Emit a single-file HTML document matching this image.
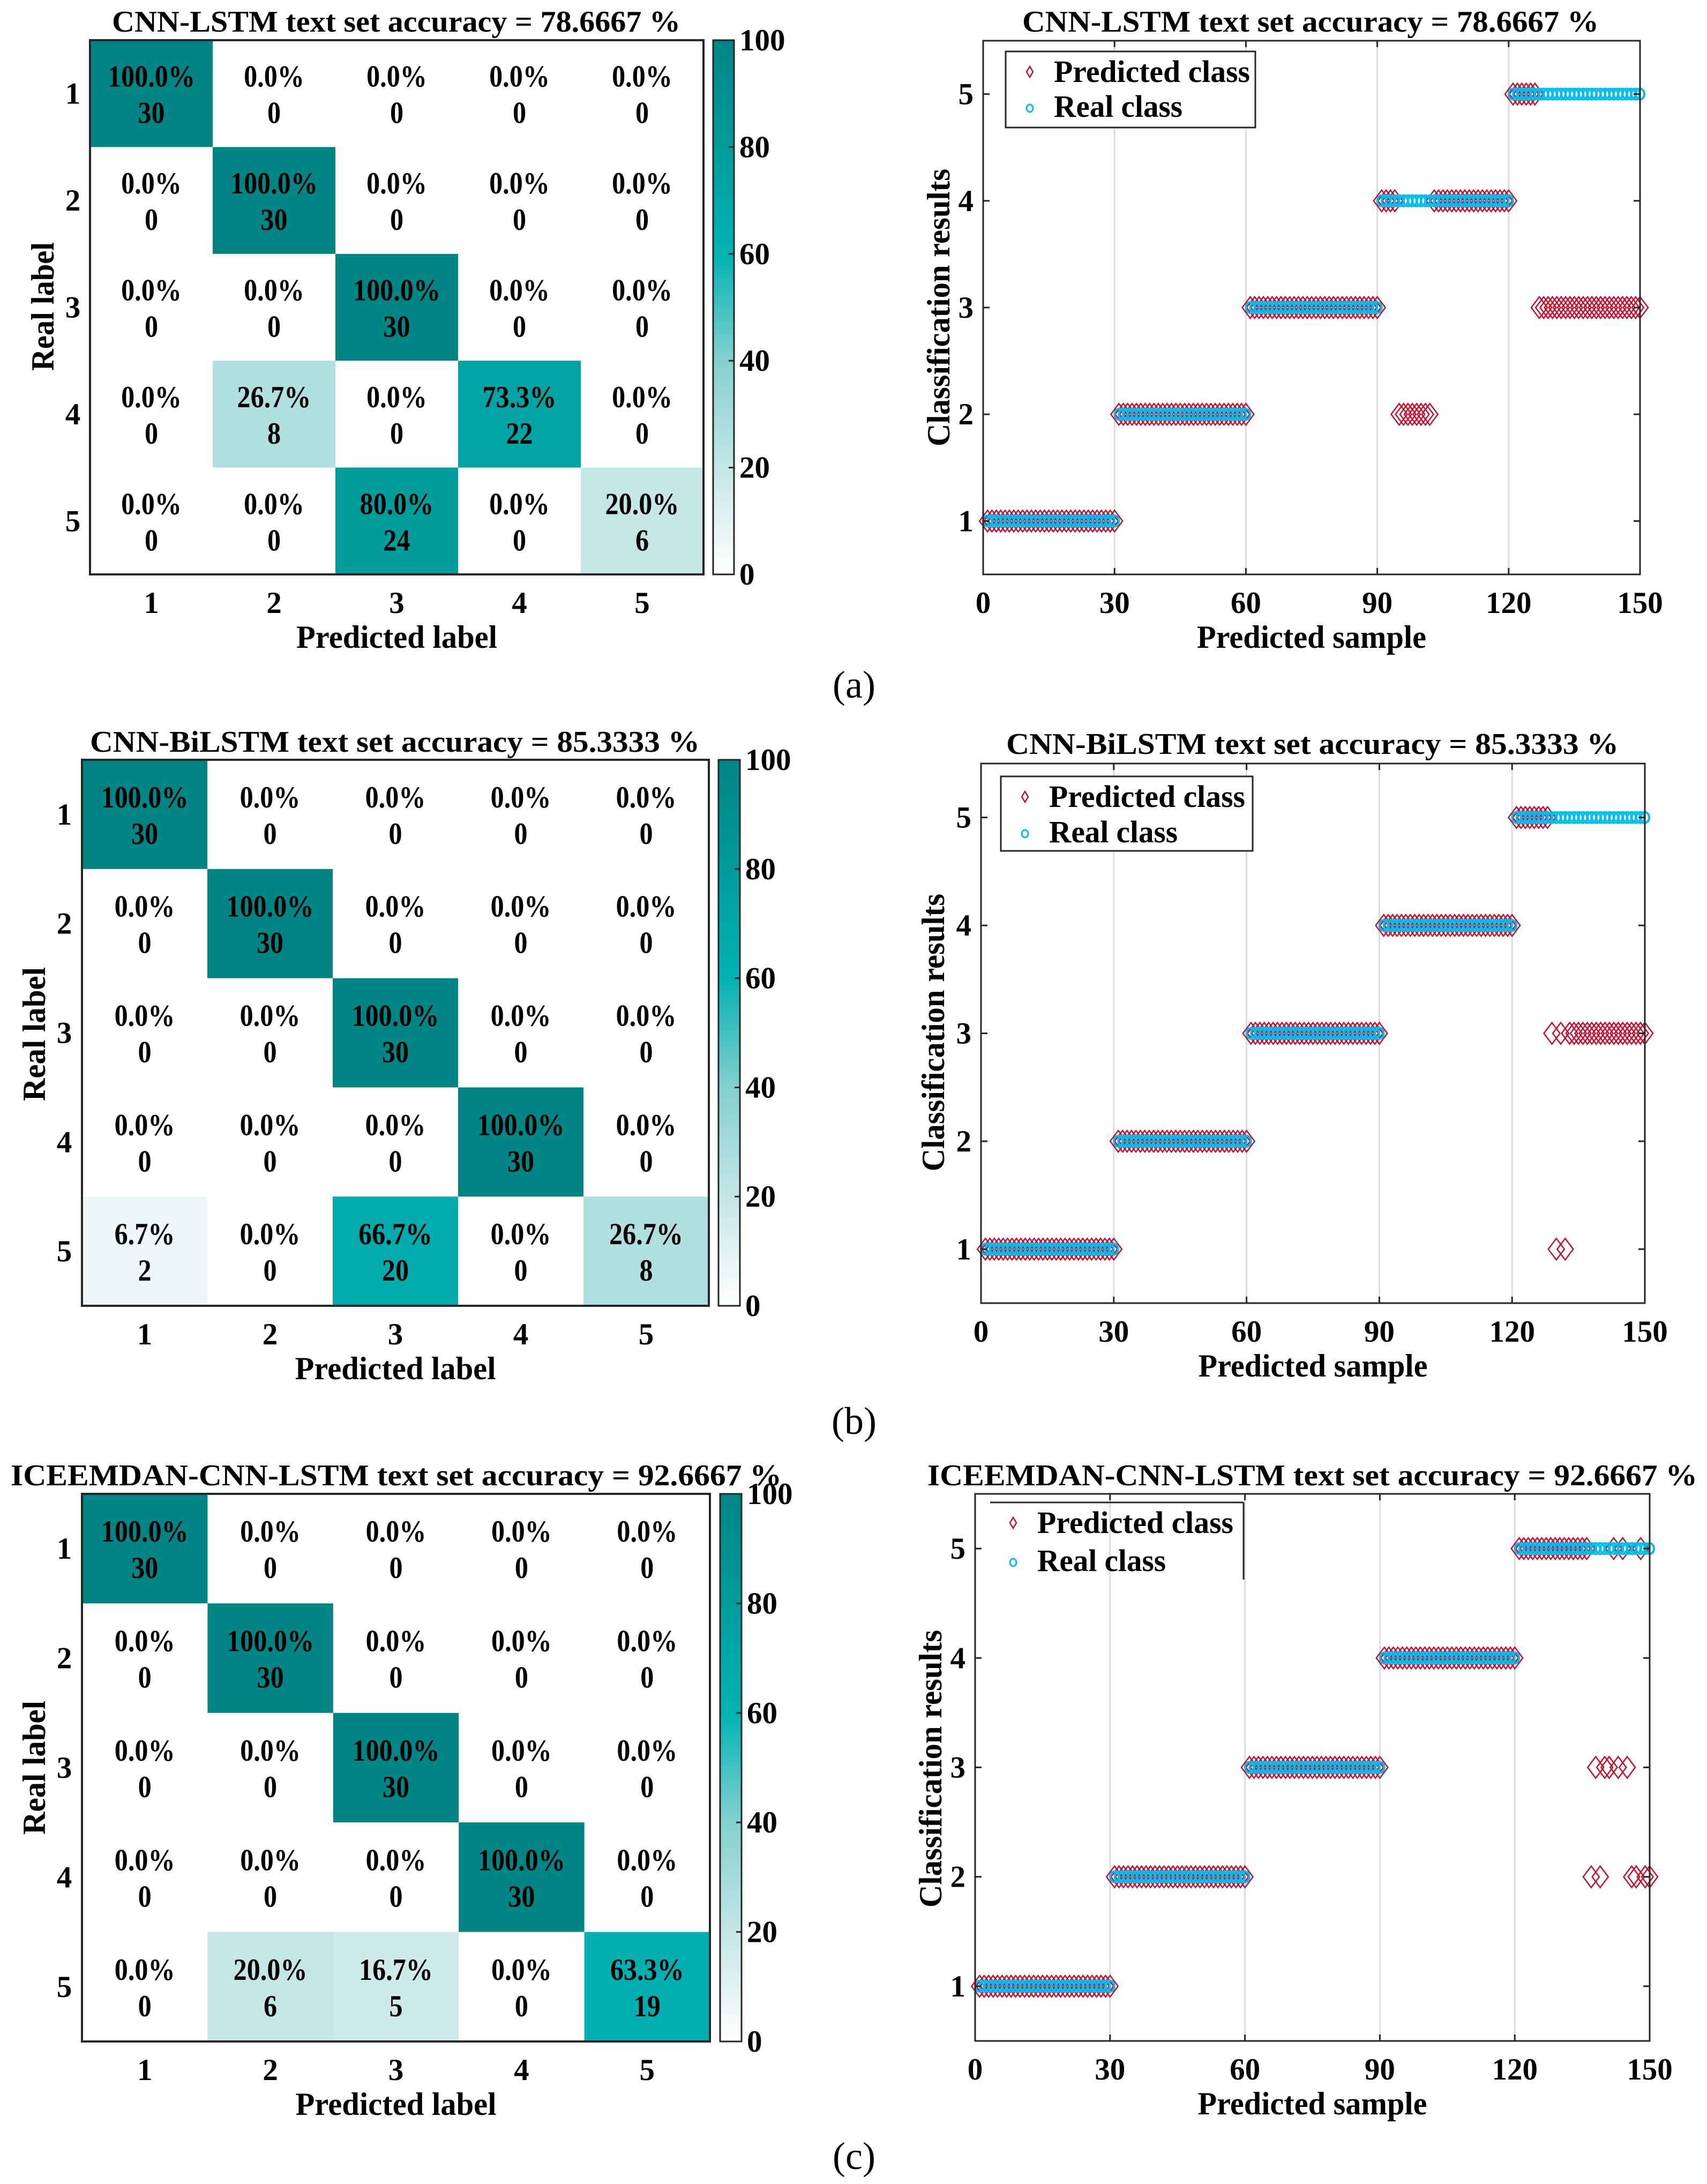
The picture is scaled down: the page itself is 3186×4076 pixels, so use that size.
<!DOCTYPE html>
<html><head><meta charset="utf-8">
<style>
html,body{margin:0;padding:0;background:#fff;}
svg{display:block;}
text{font-family:"Liberation Serif",serif;font-weight:bold;fill:#000;}
</style></head>
<body>
<svg id="fig" width="3186" height="4076" viewBox="0 0 3186 4076" xmlns="http://www.w3.org/2000/svg">
<defs>
<linearGradient id="cbar" x1="0" y1="1" x2="0" y2="0">
<stop offset="0" stop-color="#ffffff"/><stop offset="0.2" stop-color="#c4e6e6"/><stop offset="0.4" stop-color="#84d0d0"/><stop offset="0.6" stop-color="#00b3b3"/><stop offset="1" stop-color="#008585"/>
</linearGradient>
</defs>
</svg>
<script>
// ---- data ----
const classes = [1,2,3,4,5];
const cbTicks = [0,20,40,60,80,100];
const xTicks = [0,30,60,90,120,150];
const cmA = [[30,0,0,0,0],[0,30,0,0,0],[0,0,30,0,0],[0,8,0,22,0],[0,0,24,0,6]];
const cmB = [[30,0,0,0,0],[0,30,0,0,0],[0,0,30,0,0],[0,0,0,30,0],[2,0,20,0,8]];
const cmC = [[30,0,0,0,0],[0,30,0,0,0],[0,0,30,0,0],[0,0,0,30,0],[0,6,5,0,19]];
const titlesCM = ["CNN-LSTM text set accuracy = 78.6667 %","CNN-BiLSTM text set accuracy = 85.3333 %","ICEEMDAN-CNN-LSTM text set accuracy = 92.6667 %"];
const titlesSC = ["CNN-LSTM text set accuracy  = 78.6667 %","CNN-BiLSTM text set accuracy  = 85.3333 %","ICEEMDAN-CNN-LSTM text set accuracy = 92.6667 %"];
const predA_91_120 = [4,4,4,4,2,2,2,2,2,2,2,2,4,4,4,4,4,4,4,4,4,4,4,4,4,4,4,4,4,4];
const predA_121_150 = [5,5,5,5,5,5,3,3,3,3,3,3,3,3,3,3,3,3,3,3,3,3,3,3,3,3,3,3,3,3];
const predB_121_150 = [5,5,5,5,5,5,5,5,3,1,3,1,3,3,3,3,3,3,3,3,3,3,3,3,3,3,3,3,3,3];
const predC_121_150 = [5,5,5,5,5,5,5,5,5,5,5,5,5,5,5,5,2,3,2,3,3,5,3,5,3,2,2,5,2,2];

const NS='http://www.w3.org/2000/svg';
const svg=document.getElementById('fig');
function el(tag,attrs,parent){const e=document.createElementNS(NS,tag);for(const k in attrs)e.setAttribute(k,attrs[k]);(parent||svg).appendChild(e);return e;}
function txt(s,x,y,size,opts,parent){opts=opts||{};const a={x:x,y:y,'font-size':size,'text-anchor':opts.anchor||'middle'};
 if(opts.len){a.textLength=opts.len;a.lengthAdjust='spacingAndGlyphs';}
 if(opts.fill)a.fill=opts.fill; if(opts.tr)a.transform=opts.tr; if(opts.weight)a.style='font-weight:'+opts.weight;
 const t=el('text',a,parent);t.textContent=s;return t;}
function lerp(a,b,t){return a+(b-a)*t;}
const stops=[[0,[255,255,255]],[20,[196,230,230]],[40,[132,208,208]],[60,[0,179,179]],[100,[0,133,133]]];
function cmap(v){for(let i=0;i<stops.length-1;i++){const [v0,c0]=stops[i],[v1,c1]=stops[i+1];if(v<=v1){const t=(v-v0)/(v1-v0);return 'rgb('+c0.map((c,j)=>Math.round(lerp(c,c1[j],t))).join(',')+')';}}return 'rgb(0,133,133)';}

function confMat(cm,L,R,T,B,cbL,cbR,title,tx1,tx2,tyTitle,rowLabX,ylabC,ylabLen,idx){
 const g=el('g',{});
 
 
 const cw=(R-L)/5,ch=(B-T)/5;
 for(let r=0;r<5;r++)for(let c=0;c<5;c++){
  const v=cm[r][c],tot=cm[r].reduce((a,b)=>a+b,0),p=v/tot*100;
  const rect=el('rect',{x:L+c*cw,y:T+r*ch,width:cw+0.5,height:ch+0.5,fill:cmap(p)},g);
  
  
  const cx=L+(c+0.5)*cw,cy=T+(r+0.5)*ch,col=p>50?'#fff':'#000';
  const t1=txt(p.toFixed(1)+'%',0,0,57,{fill:col,tr:'translate('+cx+','+(cy-13)+') scale(0.88,1)'},g);
  
  
  const t2=txt(String(v),0,0,57,{fill:col,tr:'translate('+cx+','+(cy+55)+') scale(0.88,1)'},g);
  
  
 }
 el('rect',{x:L,y:T,width:R-L,height:B-T,fill:'none',stroke:'#262626','stroke-width':4},g);
 classes.forEach((k,i)=>{
  const xl=txt(String(k),L+(i+0.5)*cw,B+72,57,{},g);
  
  
  const yl=txt(String(k),rowLabX,T+(i+0.5)*ch+19,57,{},g);
  
  
 });
 const xt=txt('Predicted label',(L+R)/2,B+137,60,{len:375},g);
 
 
 const yt=txt('Real label',0,0,60,{len:ylabLen,tr:'translate('+(rowLabX-36)+','+ylabC+') rotate(-90)'},g);
 
 
 const tt=txt(title,(tx1+tx2)/2,tyTitle,56,{len:tx2-tx1},g);
 
 
 const cb=el('rect',{x:cbL,y:T,width:cbR-cbL,height:B-T,fill:'url(#cbar)',stroke:'#262626','stroke-width':3},g);
 
 
 cbTicks.forEach(v=>{const y=B-(B-T)*v/100;
  el('line',{x1:cbR-10,x2:cbR,y1:y,y2:y,stroke:'#262626','stroke-width':3},g);
  const l=txt(String(v),cbR+10,y+19,57,{anchor:'start'},g);
  
  
 });
}

function scatter(pred,L,R,T,B,title,tx1,tx2,tyTitle,leg,ylabX,ylabC,idx){
 const g=el('g',{});
 
 
 const xs=v=>L+(R-L)*v/150, ys=v=>B-(B-T)*(v-0.5)/5;
 xTicks.slice(1,5).forEach(v=>el('line',{x1:xs(v),x2:xs(v),y1:T,y2:B,stroke:'#dcdcdc','stroke-width':3},g));
 for(let i=1;i<=150;i++){const p=pred[i-1];
  const d=el('polygon',{points:[[xs(i)-15,ys(p)],[xs(i),ys(p)-20],[xs(i)+15,ys(p)],[xs(i),ys(p)+20]].map(a=>a.join(',')).join(' '),fill:'none',stroke:'#c8102e','stroke-width':2.5},g);
  
  
 }
 for(let i=1;i<=150;i++){const r=Math.ceil(i/30);
  const c=el('ellipse',{cx:xs(i),cy:ys(r),rx:8,ry:10,fill:'none',stroke:'#00bfef','stroke-width':4},g);
  
  
 }
 el('rect',{x:L,y:T,width:R-L,height:B-T,fill:'none',stroke:'#262626','stroke-width':3},g);
 xTicks.forEach(v=>{el('line',{x1:xs(v),x2:xs(v),y1:B,y2:B-12,stroke:'#262626','stroke-width':3},g);el('line',{x1:xs(v),x2:xs(v),y1:T,y2:T+12,stroke:'#262626','stroke-width':3},g);
  const l=txt(String(v),xs(v),B+72,57,{},g);
  
  });
 classes.forEach(v=>{el('line',{x1:L,x2:L+12,y1:ys(v),y2:ys(v),stroke:'#262626','stroke-width':3},g);el('line',{x1:R,x2:R-12,y1:ys(v),y2:ys(v),stroke:'#262626','stroke-width':3},g);
  const l=txt(String(v),L-18,ys(v)+19,57,{anchor:'end'},g);
  
  });
 const xt=txt('Predicted sample',(L+R)/2,B+137,60,{len:428},g);
 
 
 const yt=txt('Classification results',0,0,60,{len:518,tr:'translate('+ylabX+','+ylabC+') rotate(-90)'},g);
 
 
 const tt=txt(title,(tx1+tx2)/2,tyTitle,56,{len:tx2-tx1},g);
 
 
 const lg=el('g',{},g);
 
 
 if(leg.full){el('rect',{x:leg.x1,y:leg.y1,width:leg.x2-leg.x1,height:leg.y2-leg.y1,fill:'#fff',stroke:'#262626','stroke-width':3},lg);}
 else{el('line',{x1:leg.x1,x2:leg.x2,y1:leg.y1,y2:leg.y1,stroke:'#262626','stroke-width':3},lg);el('line',{x1:leg.x2,x2:leg.x2,y1:leg.y1,y2:leg.y2,stroke:'#262626','stroke-width':3},lg);}
 const e1y=leg.e1,e2y=leg.e2;
 el('polygon',{points:[[leg.mx-6,e1y-19],[leg.mx,e1y-29],[leg.mx+6,e1y-19],[leg.mx,e1y-9]].map(a=>a.join(',')).join(' '),fill:'none',stroke:'#c8102e','stroke-width':2.5},lg);
 el('ellipse',{cx:leg.mx,cy:e2y-16,rx:6,ry:7,fill:'none',stroke:'#00bfef','stroke-width':3},lg);
 const l1=txt('Predicted class',leg.tx,e1y,58,{anchor:'start',len:366},lg);
 
 
 const l2=txt('Real class',leg.tx,e2y,58,{anchor:'start',len:240},lg);
 
 
}

function buildPred(p91,p121){const a=[];for(let i=1;i<=150;i++){let v=Math.ceil(i/30);if(i>90&&i<=120&&p91)v=p91[i-91];if(i>120)v=p121[i-121];a.push(v);}return a;}

confMat(cmA,168,1313,75,1072,1331,1370,titlesCM[0],209,1270,59,136,572,240,'a');
confMat(cmB,153,1323,1418,2437,1341,1381,titlesCM[1],168,1306,1403,120,1930,250,'b');
confMat(cmC,153,1325,2788,3810,1344,1384,titlesCM[2],20,1459,2772,120,3299,250,'c');

scatter(buildPred(predA_91_120,predA_121_150),1835,3061,76,1072,titlesSC[0],1908,2984,59,
 {full:true,x1:1877,x2:2343,y1:96,y2:238,e1:153,e2:218,mx:1922,tx:1967},1772,574,'a');
scatter(buildPred(null,predB_121_150),1831,3070,1425,2432,titlesSC[1],1878,3021,1407,
 {full:true,x1:1868,x2:2338,y1:1449,y2:1588,e1:1506,e2:1572,mx:1913,tx:1958},1762,1927,'b');
scatter(buildPred(null,predC_121_150),1820,3079,2788,3809,titlesSC[2],1731,3168,2772,
 {full:false,x1:1848,x2:2321,y1:2804,y2:2948,e1:2861,e2:2932,mx:1891,tx:1936},1757,3301,'c');

[['(a)',1272],['(b)',2646],['(c)',4018]].forEach(([s,y])=>{
 const t=txt(s,1594,y+30,72,{weight:'normal'});
 
 
});
</script>
</body></html>
